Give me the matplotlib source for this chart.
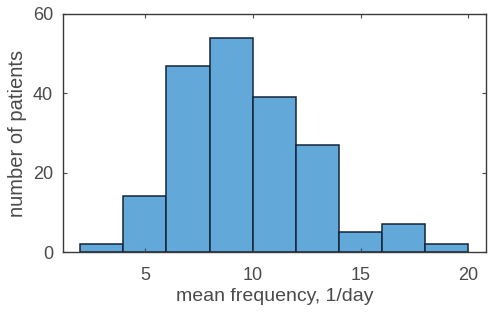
import matplotlib
matplotlib.use('Agg')
import matplotlib.pyplot as plt
import numpy as np

plt.rcParams['font.family'] = ['Liberation Sans', 'DejaVu Sans']

# histogram data
bin_edges = [2, 4, 6, 8, 10, 12, 14, 16, 18, 20]
counts = [2, 14, 47, 54, 39, 27, 5, 7, 2]
xticks = [5, 10, 15, 20]
yticks = [0, 20, 40, 60]

fig = plt.figure(figsize=(4.88, 3.17), dpi=100)
ax = fig.add_axes([0.129, 0.205, 0.866, 0.751])

left = np.array(bin_edges[:-1])
widths = np.diff(bin_edges)
ax.bar(left, counts, width=widths, align='edge', color='#62a9da',
       edgecolor='#13253a', linewidth=1.1)

ax.set_xlim(1.2, 20.8)
ax.set_ylim(0, 60)
ax.set_xticks(xticks)
ax.set_yticks(yticks)
ax.tick_params(direction='in', top=True, right=True, length=3,
               labelsize=13, colors='#4a4a4a')
ax.tick_params(axis='x', pad=11)
ax.tick_params(axis='y', pad=7)
for s in ax.spines.values():
    s.set_color('#3a3a3a')
    s.set_linewidth(1.0)

ax.set_xlabel('mean frequency, 1/day', fontsize=14, color='#4a4a4a', labelpad=3)
ax.set_ylabel('number of patients', fontsize=14.5, color='#4a4a4a', labelpad=4)

fig.savefig('out.png', dpi=100)
